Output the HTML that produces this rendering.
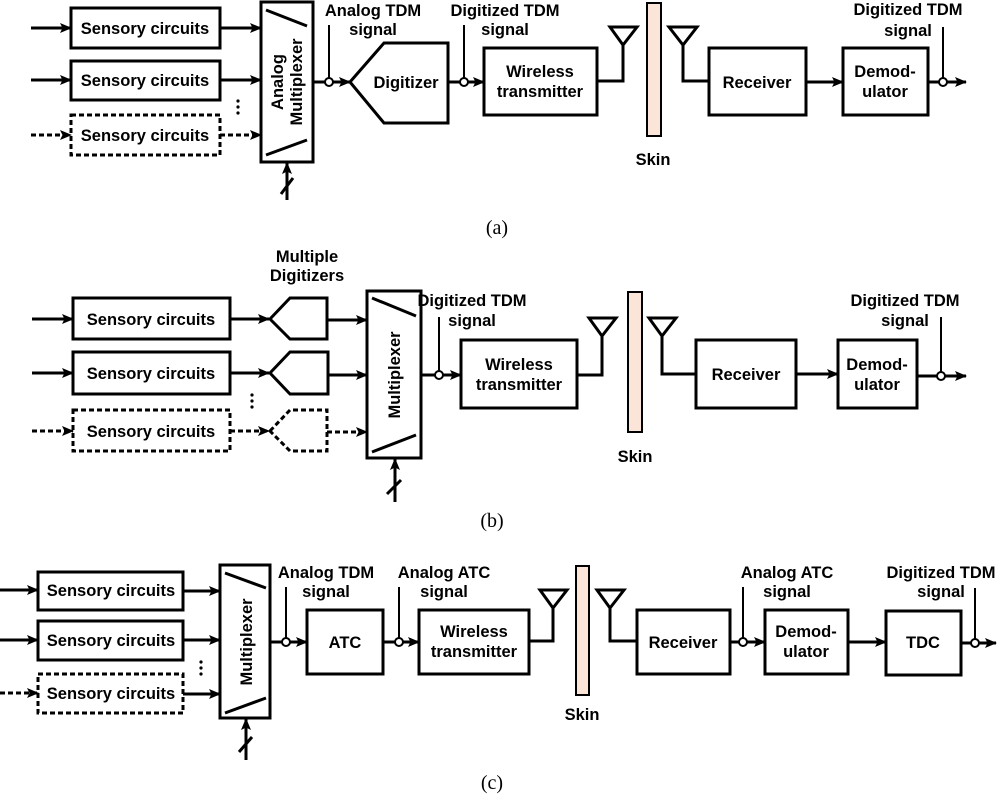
<!DOCTYPE html>
<html><head><meta charset="utf-8"><style>
html,body{margin:0;padding:0;background:#fff}
svg{display:block}
text{font-family:"Liberation Sans",Arial,sans-serif;font-weight:bold;font-size:16.5px;fill:#000}
.c{font-family:"Liberation Serif",serif;font-weight:normal;font-size:20px}
</style></head><body>
<svg width="1000" height="797" viewBox="0 0 1000 797" xmlns="http://www.w3.org/2000/svg">
<defs>
<marker id="a" markerWidth="12" markerHeight="10" refX="11" refY="5" orient="auto" markerUnits="userSpaceOnUse"><path d="M0,0 L12,5 L0,10 L2.5,5z" fill="#000"/></marker>
</defs>
<g stroke="#000" stroke-width="3" fill="none">
<!-- (a) -->
<line x1="31" y1="28" x2="71" y2="28" marker-end="url(#a)"/>
<line x1="31" y1="80" x2="71" y2="80" marker-end="url(#a)"/>
<line x1="31" y1="135" x2="71" y2="135" stroke-dasharray="5,3" marker-end="url(#a)"/>
<rect x="71" y="8" width="149" height="40" fill="#fff"/>
<rect x="71" y="61" width="149" height="39" fill="#fff"/>
<rect x="71" y="115" width="149" height="40" stroke-dasharray="5,3"/>
<line x1="220" y1="28" x2="261" y2="28" marker-end="url(#a)"/>
<line x1="220" y1="80" x2="261" y2="80" marker-end="url(#a)"/>
<line x1="220" y1="135" x2="261" y2="135" stroke-dasharray="5,3" marker-end="url(#a)"/>
<rect x="261" y="2" width="52" height="160"/>
<line x1="266" y1="10" x2="307" y2="26"/>
<line x1="266" y1="155" x2="307" y2="140"/>
<line x1="287" y1="200" x2="287" y2="163" marker-end="url(#a)"/>
<line x1="281" y1="194" x2="293" y2="178"/>
<line x1="313" y1="82" x2="350" y2="82" marker-end="url(#a)"/>
<line x1="329" y1="25" x2="329" y2="78" stroke-width="2"/>
<circle cx="329" cy="82" r="4" fill="#fff" stroke-width="2"/>
<polygon points="350,82 384,43 448,43 448,123 384,123"/>
<line x1="448" y1="82" x2="484" y2="82" marker-end="url(#a)"/>
<line x1="464" y1="25" x2="464" y2="78" stroke-width="2"/>
<circle cx="464" cy="82" r="4" fill="#fff" stroke-width="2"/>
<rect x="484" y="48" width="113" height="67"/>
<polyline points="597,81 623,81 623,45"/>
<polygon points="610,27 637,27 623,45"/>
<rect x="647" y="3" width="14" height="133" fill="#fbe5d9" stroke-width="2"/>
<polygon points="669,27 697,27 683,45"/>
<polyline points="683,45 683,81 709,81"/>
<rect x="709" y="48" width="97" height="67"/>
<line x1="806" y1="82" x2="843" y2="82" marker-end="url(#a)"/>
<rect x="843" y="48" width="85" height="67"/>
<line x1="928" y1="82" x2="966" y2="82" marker-end="url(#a)"/>
<line x1="943" y1="27" x2="943" y2="78" stroke-width="2"/>
<circle cx="943" cy="82" r="4" fill="#fff" stroke-width="2"/>
<!-- (b) -->
<line x1="32" y1="319" x2="73" y2="319" marker-end="url(#a)"/>
<line x1="32" y1="373" x2="73" y2="373" marker-end="url(#a)"/>
<line x1="32" y1="431" x2="73" y2="431" stroke-dasharray="5,3" marker-end="url(#a)"/>
<rect x="73" y="298" width="157" height="41"/>
<rect x="73" y="352" width="157" height="42"/>
<rect x="73" y="410" width="157" height="41" stroke-dasharray="5,3"/>
<line x1="230" y1="319" x2="269" y2="319" marker-end="url(#a)"/>
<line x1="230" y1="373" x2="269" y2="373" marker-end="url(#a)"/>
<line x1="230" y1="431" x2="269" y2="431" stroke-dasharray="5,3" marker-end="url(#a)"/>
<polygon points="270,319 290,298 327,298 327,339 290,339"/>
<polygon points="270,373 290,352 328,352 328,394 290,394"/>
<polygon points="270,431 290,410 327,410 327,451 290,451" stroke-dasharray="5,3"/>
<line x1="327" y1="320" x2="367" y2="320" marker-end="url(#a)"/>
<line x1="328" y1="375" x2="367" y2="375" marker-end="url(#a)"/>
<line x1="327" y1="432" x2="367" y2="432" stroke-dasharray="5,3" marker-end="url(#a)"/>
<rect x="367" y="291" width="54" height="167"/>
<line x1="372" y1="298" x2="416" y2="316"/>
<line x1="372" y1="452" x2="416" y2="435"/>
<line x1="395" y1="502" x2="395" y2="459" marker-end="url(#a)"/>
<line x1="387" y1="494" x2="401" y2="480"/>
<line x1="421" y1="375" x2="461" y2="375" marker-end="url(#a)"/>
<line x1="439" y1="317" x2="439" y2="371" stroke-width="2"/>
<circle cx="439" cy="375" r="4" fill="#fff" stroke-width="2"/>
<rect x="461" y="340" width="116" height="68"/>
<polyline points="577,375 602,375 602,336"/>
<polygon points="589,318 616,318 602,336"/>
<rect x="628" y="292" width="14" height="140" fill="#fbe5d9" stroke-width="2"/>
<polygon points="649,318 676,318 662,336"/>
<polyline points="662,336 662,374 696,374"/>
<rect x="696" y="340" width="100" height="68"/>
<line x1="796" y1="374" x2="838" y2="374" marker-end="url(#a)"/>
<rect x="838" y="340" width="79" height="68"/>
<line x1="917" y1="376" x2="966" y2="376" marker-end="url(#a)"/>
<line x1="941" y1="317" x2="941" y2="372" stroke-width="2"/>
<circle cx="941" cy="376" r="4" fill="#fff" stroke-width="2"/>
<!-- (c) -->
<line x1="0" y1="590" x2="38" y2="590" marker-end="url(#a)"/>
<line x1="0" y1="640" x2="38" y2="640" marker-end="url(#a)"/>
<line x1="0" y1="693" x2="38" y2="693" stroke-dasharray="5,3" marker-end="url(#a)"/>
<rect x="38" y="572" width="145" height="38"/>
<rect x="38" y="621" width="145" height="39"/>
<rect x="38" y="674" width="145" height="39" stroke-dasharray="5,3"/>
<line x1="183" y1="591" x2="220" y2="591" marker-end="url(#a)"/>
<line x1="183" y1="640" x2="220" y2="640" marker-end="url(#a)"/>
<line x1="183" y1="694" x2="220" y2="694" marker-end="url(#a)"/>
<rect x="220" y="565" width="50" height="153"/>
<line x1="225" y1="573" x2="266" y2="588"/>
<line x1="225" y1="713" x2="266" y2="698"/>
<line x1="246" y1="760" x2="246" y2="719" marker-end="url(#a)"/>
<line x1="239" y1="752" x2="252" y2="737"/>
<line x1="270" y1="642" x2="307" y2="642" marker-end="url(#a)"/>
<line x1="286" y1="587" x2="286" y2="638" stroke-width="2"/>
<circle cx="286" cy="642" r="4" fill="#fff" stroke-width="2"/>
<rect x="307" y="610" width="76" height="64"/>
<line x1="383" y1="642" x2="419" y2="642" marker-end="url(#a)"/>
<line x1="399" y1="587" x2="399" y2="638" stroke-width="2"/>
<circle cx="399" cy="642" r="4" fill="#fff" stroke-width="2"/>
<rect x="419" y="610" width="110" height="64"/>
<polyline points="529,641 553,641 553,608"/>
<polygon points="540,590 567,590 553,608"/>
<rect x="576" y="566" width="13" height="129" fill="#fbe5d9" stroke-width="2"/>
<polygon points="597,590 624,590 610,608"/>
<polyline points="610,608 610,641 637,641"/>
<rect x="637" y="610" width="93" height="64"/>
<line x1="730" y1="642" x2="765" y2="642" marker-end="url(#a)"/>
<line x1="743" y1="587" x2="743" y2="638" stroke-width="2"/>
<circle cx="743" cy="642" r="4" fill="#fff" stroke-width="2"/>
<rect x="765" y="610" width="83" height="64"/>
<line x1="848" y1="642" x2="886" y2="642" marker-end="url(#a)"/>
<rect x="886" y="611" width="75" height="64"/>
<line x1="961" y1="643" x2="996" y2="643" marker-end="url(#a)"/>
<line x1="975" y1="588" x2="975" y2="639" stroke-width="2"/>
<circle cx="975" cy="643" r="4" fill="#fff" stroke-width="2"/>
</g>
<g fill="#000">
<circle cx="238" cy="101" r="1.6"/><circle cx="238" cy="107" r="1.6"/><circle cx="238" cy="113" r="1.6"/>
<circle cx="252" cy="395" r="1.6"/><circle cx="252" cy="401" r="1.6"/><circle cx="252" cy="407" r="1.6"/>
<circle cx="201" cy="662" r="1.6"/><circle cx="201" cy="668" r="1.6"/><circle cx="201" cy="674" r="1.6"/>
</g>
<g text-anchor="middle">
<!-- (a) -->
<text x="145" y="34">Sensory circuits</text>
<text x="145" y="86">Sensory circuits</text>
<text x="145" y="141">Sensory circuits</text>
<text transform="translate(287,82) rotate(-90)" y="-4">Analog</text>
<text transform="translate(287,82) rotate(-90)" y="15">Multiplexer</text>
<text x="373" y="16">Analog TDM</text>
<text x="373" y="35">signal</text>
<text x="406" y="88">Digitizer</text>
<text x="505" y="16">Digitized TDM</text>
<text x="505" y="35">signal</text>
<text x="540" y="77">Wireless</text>
<text x="540" y="97">transmitter</text>
<text x="653" y="165">Skin</text>
<text x="757" y="88">Receiver</text>
<text x="885" y="77">Demod-</text>
<text x="885" y="97">ulator</text>
<text x="908" y="15">Digitized TDM</text>
<text x="908" y="36">signal</text>
<text class="c" x="497" y="234">(a)</text>
<!-- (b) -->
<text x="307" y="262">Multiple</text>
<text x="307" y="281">Digitizers</text>
<text x="151" y="325">Sensory circuits</text>
<text x="151" y="379">Sensory circuits</text>
<text x="151" y="437">Sensory circuits</text>
<text transform="translate(394,375) rotate(-90)" y="6">Multiplexer</text>
<text x="472" y="306">Digitized TDM</text>
<text x="472" y="326">signal</text>
<text x="519" y="370">Wireless</text>
<text x="519" y="390">transmitter</text>
<text x="635" y="462">Skin</text>
<text x="746" y="380">Receiver</text>
<text x="877" y="370">Demod-</text>
<text x="877" y="390">ulator</text>
<text x="905" y="306">Digitized TDM</text>
<text x="905" y="326">signal</text>
<text class="c" x="492" y="527">(b)</text>
<!-- (c) -->
<text x="111" y="596">Sensory circuits</text>
<text x="111" y="646">Sensory circuits</text>
<text x="111" y="699">Sensory circuits</text>
<text transform="translate(246,642) rotate(-90)" y="6">Multiplexer</text>
<text x="326" y="578">Analog TDM</text>
<text x="326" y="597">signal</text>
<text x="444" y="578">Analog ATC</text>
<text x="444" y="597">signal</text>
<text x="345" y="648">ATC</text>
<text x="474" y="637">Wireless</text>
<text x="474" y="657">transmitter</text>
<text x="582" y="720">Skin</text>
<text x="683" y="648">Receiver</text>
<text x="787" y="578">Analog ATC</text>
<text x="787" y="597">signal</text>
<text x="806" y="637">Demod-</text>
<text x="806" y="657">ulator</text>
<text x="923" y="648">TDC</text>
<text x="941" y="578">Digitized TDM</text>
<text x="941" y="597">signal</text>
<text class="c" x="492" y="789">(c)</text>
</g>
</svg>
</body></html>
